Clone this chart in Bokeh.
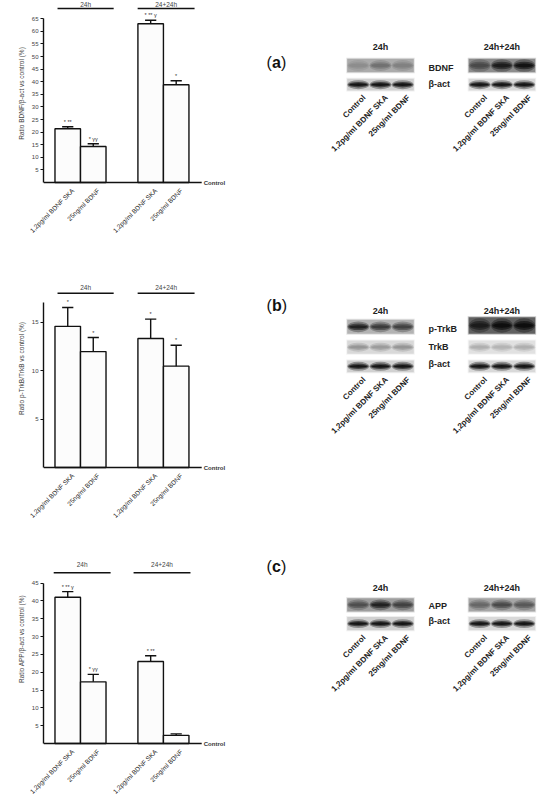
import math
from bokeh.plotting import figure
from bokeh.models import Range1d, FixedTicker, ColumnDataSource, LinearColorMapper
from bokeh.layouts import column, row
from bokeh.palettes import Greys256
from bokeh.core.properties import value
from bokeh.embed import file_html
from bokeh.resources import INLINE

FONT = "Liberation Sans"

# ---------------- data ----------------
groups = ["24h", "24+24h"]
treatments = ["1,2pg/ml BDNF SKA", "25ng/ml BDNF"]
bar_labels = treatments + treatments

bdnf_mean = [21.3, 14.3, 63.0, 38.8]
bdnf_err = [0.8, 1.1, 1.4, 1.6]
bdnf_sig = ["* **", "* γγ", "* ** γ", "*"]
bdnf_ticks = [5, 10, 15, 20, 25, 30, 35, 40, 45, 50, 55, 60, 65]

trkb_mean = [14.55, 11.95, 13.3, 10.45]
trkb_err = [1.95, 1.45, 2.0, 2.15]
trkb_sig = ["*", "*", "*", "*"]
trkb_ticks = [5, 10, 15]

app_mean = [41.0, 17.3, 23.0, 2.3]
app_err = [1.6, 2.1, 1.6, 0.4]
app_sig = ["* ** γ", "* γγ", "* **", ""]
app_ticks = [5, 10, 15, 20, 25, 30, 35, 40, 45]

lanes = ["Control", "1,2pg/ml BDNF SKA", "25ng/ml BDNF"]
blot_times = ["24h", "24h+24h"]
# band darkness (0 = white, 1 = black): [24h lanes], [24h+24h lanes]; strip backgrounds
bdnf_bg = [0.33, 0.45]
bdnf_bands = [[0.45, 0.56, 0.50], [0.72, 0.90, 0.93]]
bact_bg = [0.18, 0.15]
bact_bands = [[0.93, 0.93, 0.93], [0.93, 0.93, 0.93]]
ptrkb_bg = [0.30, 0.62]
ptrkb_bands = [[0.88, 0.78, 0.75], [0.90, 0.95, 0.95]]
trkb_bg = [0.15, 0.12]
trkb_bands = [[0.42, 0.40, 0.42], [0.32, 0.30, 0.32]]
app_bg = [0.38, 0.35]
app_bands = [[0.70, 0.88, 0.75], [0.60, 0.72, 0.66]]

# ---------------- bar charts ----------------
centers = [0.95, 1.95, 4.2, 5.2]
label_ticks = [c + 0.2 for c in centers]
INK = "#111111"
PAD = 4


def bar_chart(mean, err, sig, ylabel, axis_top, ticks, ppu, zero_px, height,
              spans, line_px, label_px):
    p = figure(width=240, height=height,
               x_range=Range1d(0, 7.25),
               y_range=Range1d(-PAD / ppu, zero_px / ppu),
               output_backend="svg", toolbar_location=None,
               min_border_left=43, min_border_right=12,
               min_border_top=0, min_border_bottom=int(height - zero_px - PAD))
    p.outline_line_color = None
    p.grid.visible = False
    cap = [m + e for m, e in zip(mean, err)]
    src = ColumnDataSource(dict(x=centers, top=mean, cap=cap, sig=sig,
                                cl=[c - 0.22 for c in centers],
                                cr=[c + 0.22 for c in centers]))
    p.vbar(x="x", top="top", bottom=0, width=1.0, source=src,
           fill_color="#fcfcfc", line_color=INK, line_width=1.4)
    p.segment(x0="x", y0="top", x1="x", y1="cap", source=src,
              line_color=INK, line_width=1.4)
    p.segment(x0="cl", y0="cap", x1="cr", y1="cap", source=src,
              line_color=INK, line_width=1.4)
    p.text(x="x", y="cap", text="sig", source=src, text_align="center",
           text_baseline="bottom", y_offset=-2, text_font_size="5.5px",
           text_font=value(FONT), text_color="#333333")
    # baseline (control level)
    p.segment(x0=[0], y0=[0], x1=[6.2], y1=[0], line_color=INK, line_width=1.4)
    p.text(x=[6.28], y=[0], text=["Control"], text_align="left",
           text_baseline="middle", text_font_size="6px", text_font=value(FONT),
           text_font_style="bold", text_color="#333333")
    # group bars
    gy = (zero_px - line_px) / ppu
    ly = (zero_px - label_px) / ppu
    p.segment(x0=[s[0] for s in spans], y0=[gy, gy],
              x1=[s[1] for s in spans], y1=[gy, gy],
              line_color=INK, line_width=1.5)
    p.text(x=[(s[0] + s[1]) / 2 for s in spans], y=[ly, ly], text=groups,
           text_align="center", text_baseline="middle", text_font_size="6.5px",
           text_font=value(FONT), text_color="#444444")
    # y axis
    ya = p.yaxis[0]
    ya.bounds = (0, axis_top)
    ya.ticker = FixedTicker(ticks=ticks)
    ya.axis_label = ylabel
    ya.axis_label_text_font_size = "6.5px"
    ya.axis_label_text_font_style = "normal"
    ya.axis_label_text_font = FONT
    ya.axis_label_standoff = 4
    ya.major_label_text_font_size = "6px"
    ya.major_label_text_font = FONT
    ya.major_label_standoff = 2
    ya.major_tick_out = 3
    ya.major_tick_in = 0
    ya.minor_tick_line_color = None
    ya.axis_line_width = 1.4
    ya.axis_line_color = INK
    ya.major_tick_line_color = INK
    # x axis (category labels only)
    xa = p.xaxis[0]
    xa.ticker = FixedTicker(ticks=label_ticks)
    ov = {}
    for c, lab in zip(label_ticks, bar_labels):
        ov[c] = lab
        ov[str(c)] = lab
    xa.major_label_overrides = ov
    xa.major_label_orientation = math.pi / 4
    xa.axis_line_color = None
    xa.major_tick_line_color = None
    xa.minor_tick_line_color = None
    xa.major_tick_out = 0
    xa.major_tick_in = 0
    xa.minor_tick_out = 0
    xa.minor_tick_in = 0
    xa.major_label_text_font_size = "6.5px"
    xa.major_label_text_font = FONT
    xa.major_label_text_color = "#222222"
    xa.major_label_standoff = 3
    return p


spans_ab = [(0.55, 2.75), (3.69, 5.92)]
spans_c = [(0.40, 2.63), (3.53, 5.76)]

H_A, H_B, H_C = 265, 265, 270
Z_A, Z_B, Z_C = 182, 202, 215
TOP_A, TOP_B, TOP_C = 0, 265, 530

chart_a = bar_chart(bdnf_mean, bdnf_err, bdnf_sig, "Ratio BDNF/β-act vs control (%)",
                    65, bdnf_ticks, 2.52, Z_A, H_A, spans_ab, 8, 3.5)
chart_b = bar_chart(trkb_mean, trkb_err, trkb_sig, "Ratio p-TrkB/TrkB vs control (%)",
                    17, trkb_ticks, 9.7, Z_B, H_B, spans_ab, 27.7, 21.7)
chart_c = bar_chart(app_mean, app_err, app_sig, "Ratio APP/β-act vs control (%)",
                    45, app_ticks, 3.6, Z_C, H_C, spans_c, 42.7, 34.3)

# ---------------- blots ----------------
LANE_PX = 22.2
BLOT_LEFT_PX = 346.7
blot_starts = [0.0, 5.47]
cmap = LinearColorMapper(palette=list(reversed(Greys256)), low=0, high=1)


def blot_panel(letter, letter_w, height, zero_px, row_top, letter_y, header_y, strips, lane_y):
    frame_h = zero_px + PAD

    def Y(ry):
        return height - (ry - row_top)

    p = figure(width=306, height=height,
               x_range=Range1d((240 - BLOT_LEFT_PX) / LANE_PX, (546 - BLOT_LEFT_PX) / LANE_PX),
               y_range=Range1d(height - frame_h, height), x_axis_type=None, y_axis_type=None,
               output_backend="svg", toolbar_location=None,
               min_border_left=0, min_border_right=0, min_border_top=0,
               min_border_bottom=int(height - frame_h))
    p.outline_line_color = None
    p.grid.visible = False

    rx, ry_, rw, rh, rl, ra = [], [], [], [], [], []
    ex, ey, ew, eh, el, ea = [], [], [], [], [], []
    for st in strips:
        for side in range(2):
            top, bot = st["span"][side]
            cy = Y((top + bot) / 2)
            h = bot - top
            x0 = blot_starts[side]
            for dw, dh, a in [(0.08, 2.0, 0.35), (0.0, 0.0, 1.0)]:
                rx.append(x0 + 1.5); ry_.append(cy); rw.append(3.0 + dw); rh.append(h + dh)
                rl.append(st["bg"][side]); ra.append(a)
            bh = st["band_h"][side]
            for i, lvl in enumerate(st["bands"][side]):
                lx = x0 + 0.5 + i
                for fw, fh, a in [(1.0, 1.8, 0.35), (0.92, 1.1, 0.6), (0.8, 0.55, 0.9)]:
                    ex.append(lx); ey.append(cy); ew.append(fw); eh.append(bh * fh)
                    el.append(lvl); ea.append(a)
    rs = ColumnDataSource(dict(x=rx, y=ry_, w=rw, h=rh, lvl=rl, a=ra))
    es = ColumnDataSource(dict(x=ex, y=ey, w=ew, h=eh, lvl=el, a=ea))
    p.rect(x="x", y="y", width="w", height="h", source=rs,
           fill_color={"field": "lvl", "transform": cmap}, fill_alpha="a", line_color=None)
    p.ellipse(x="x", y="y", width="w", height="h", source=es,
              fill_color={"field": "lvl", "transform": cmap}, fill_alpha="a", line_color=None)

    # panel letter
    lx0 = (266 - BLOT_LEFT_PX) / LANE_PX
    p.text(x=[lx0], y=[Y(letter_y)], text=["("], text_baseline="middle", text_align="left",
           text_font_size="16px", text_font=value(FONT), text_color="#111111")
    p.text(x=[lx0], y=[Y(letter_y)], text=[letter], x_offset=5.5, text_baseline="middle",
           text_align="left", text_font_size="16px", text_font=value(FONT),
           text_font_style="bold", text_color="#111111")
    p.text(x=[lx0], y=[Y(letter_y)], text=[")"], x_offset=5.5 + letter_w, text_baseline="middle",
           text_align="left", text_font_size="16px", text_font=value(FONT), text_color="#111111")
    # time headers
    p.text(x=[s + 1.5 for s in blot_starts], y=[Y(header_y)] * 2, text=blot_times,
           text_align="center", text_baseline="middle", text_font_size="9px",
           text_font=value(FONT), text_font_style="bold", text_color="#222222")
    # strip names
    p.text(x=[(428 - BLOT_LEFT_PX) / LANE_PX] * len(strips),
           y=[Y(st["label_y"]) for st in strips], text=[st["name"] for st in strips],
           text_align="left", text_baseline="middle", text_font_size="9px",
           text_font=value(FONT), text_font_style="bold", text_color="#222222")
    # lane labels
    lxs, lts = [], []
    for s in blot_starts:
        for i, lab in enumerate(lanes):
            lxs.append(s + 0.5 + i); lts.append(lab)
    p.text(x=lxs, y=[Y(lane_y)] * len(lxs), text=lts, x_offset=6, angle=math.pi / 4,
           text_align="right", text_baseline="middle", text_font_size="8px",
           text_font=value(FONT), text_font_style="bold", text_color="#222222")
    return p


blot_a = blot_panel("a", 8.9, H_A, Z_A, TOP_A, 62, 46, [
    dict(name="BDNF", span=[(58.3, 71.7), (58.3, 71.7)], bg=bdnf_bg, bands=bdnf_bands,
         band_h=[6, 7], label_y=67.7),
    dict(name="β-act", span=[(78.3, 90), (78.3, 90)], bg=bact_bg, bands=bact_bands,
         band_h=[5, 5], label_y=83),
], 96)

blot_b = blot_panel("b", 9.8, H_B, Z_B, TOP_B, 305, 310, [
    dict(name="p-TrkB", span=[(319.3, 333.3), (316.7, 333.3)], bg=ptrkb_bg, bands=ptrkb_bands,
         band_h=[6, 8], label_y=328),
    dict(name="TrkB", span=[(340, 353.3), (340, 353.3)], bg=trkb_bg, bands=trkb_bands,
         band_h=[5, 5], label_y=346),
    dict(name="β-act", span=[(360, 371.7), (360, 371.7)], bg=bact_bg, bands=bact_bands,
         band_h=[5, 5], label_y=363.3),
], 378)

blot_c = blot_panel("c", 8.9, H_C, Z_C, TOP_C, 566.7, 588, [
    dict(name="APP", span=[(598.3, 611.7), (598.3, 611.7)], bg=app_bg, bands=app_bands,
         band_h=[6, 6], label_y=606.7),
    dict(name="β-act", span=[(617.3, 630.7), (617.3, 630.7)], bg=bact_bg, bands=bact_bands,
         band_h=[5, 5], label_y=621.7),
], 637)

layout = column(row(chart_a, blot_a, spacing=0),
                row(chart_b, blot_b, spacing=0),
                row(chart_c, blot_c, spacing=0), spacing=0)

open("out.html", "w").write(file_html(layout, INLINE))
